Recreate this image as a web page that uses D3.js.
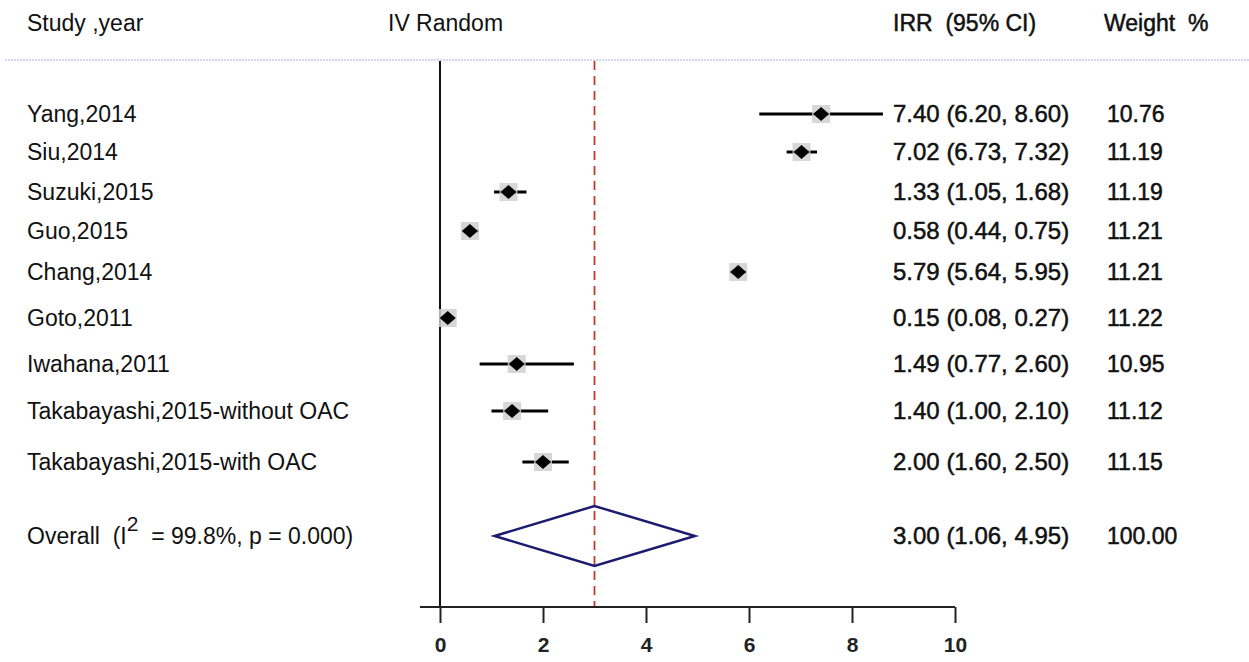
<!DOCTYPE html>
<html>
<head>
<meta charset="utf-8">
<script src="https://d3js.org/d3.v7.min.js"></script>
<style>
  body { margin: 0; background: #fff; }
  text { font-family: "Liberation Sans", Arial, sans-serif; fill: #111; }
</style>
</head>
<body>
<script>
(function(){
  var width = 1249, height = 662;

  var studies = ["Yang,2014", "Siu,2014", "Suzuki,2015", "Guo,2015", "Chang,2014",
                 "Goto,2011", "Iwahana,2011", "Takabayashi,2015-without OAC", "Takabayashi,2015-with OAC"];
  var irr = [7.40, 7.02, 1.33, 0.58, 5.79, 0.15, 1.49, 1.40, 2.00];
  var lower = [6.20, 6.73, 1.05, 0.44, 5.64, 0.08, 0.77, 1.00, 1.60];
  var upper = [8.60, 7.32, 1.68, 0.75, 5.95, 0.27, 2.60, 2.10, 2.50];
  var weights = ["10.76", "11.19", "11.19", "11.21", "11.21", "11.22", "10.95", "11.12", "11.15"];
  var rowY = [114, 152, 192, 231, 272, 318, 364, 411, 462];

  var overall = { label: "Overall", est: 3.00, lo: 1.06, hi: 4.95, weight: "100.00" };
  var xTicks = [0, 2, 4, 6, 8, 10];

  var svg = d3.select("body").append("svg")
    .attr("width", width)
    .attr("height", height);

  var x = d3.scaleLinear().domain([0, 10]).range([440, 955]);
  var fmt = d3.format(".2f");
  var fs = "23px";

  // header
  var hdr = [["Study ,year", 27, 0], ["IV Random", 388, 0], ["IRR  (95% CI)", 893, 1], ["Weight  %", 1104, 1]];
  svg.selectAll("text.hdr").data(hdr).enter().append("text")
    .attr("class", "hdr")
    .attr("x", d => d[1])
    .attr("y", 31)
    .style("font-size", fs)
    .style("white-space", "pre")
    .style("stroke", d => d[2] ? "#111" : "none")
    .style("stroke-width", 0.5)
    .text(d => d[0]);

  svg.append("line")
    .attr("x1", 5).attr("x2", width).attr("y1", 60).attr("y2", 60)
    .style("stroke", "#c8c8f0").style("stroke-width", 1.5)
    .style("stroke-dasharray", "2,1");

  // zero line and overall effect line
  svg.append("line")
    .attr("x1", x(0)).attr("x2", x(0)).attr("y1", 61).attr("y2", 607)
    .style("stroke", "#111").style("stroke-width", 2);
  svg.append("line")
    .attr("x1", x(overall.est)).attr("x2", x(overall.est)).attr("y1", 61).attr("y2", 607)
    .style("stroke", "#c0392b").style("stroke-width", 1.8)
    .style("stroke-dasharray", "9,6");

  // axis
  var axis = svg.append("g").attr("transform", "translate(0,607)")
    .call(d3.axisBottom(x).tickValues(xTicks).tickSize(16).tickPadding(14).tickFormat(d3.format("d")));
  axis.select(".domain").remove();
  axis.selectAll(".tick line").style("stroke", "#222").style("stroke-width", 2);
  axis.selectAll(".tick text")
    .style("font-size", "21px").style("font-weight", "bold").style("fill", "#222")
    .style("font-family", "'Liberation Sans', Arial, sans-serif");
  svg.append("line")
    .attr("x1", 420).attr("x2", x(10)).attr("y1", 607).attr("y2", 607)
    .style("stroke", "#222").style("stroke-width", 2);

  var rows = studies.map((s, i) => ({
    name: s, est: irr[i], lo: lower[i], hi: upper[i], w: weights[i], y: rowY[i]
  }));

  // CI lines
  svg.selectAll("line.ci").data(rows).enter().append("line")
    .attr("class", "ci")
    .attr("x1", d => x(d.lo)).attr("x2", d => x(d.hi))
    .attr("y1", d => d.y).attr("y2", d => d.y)
    .style("stroke", "#000").style("stroke-width", 3);

  // weight boxes
  svg.selectAll("rect.box").data(rows).enter().append("rect")
    .attr("class", "box")
    .attr("x", d => x(d.est) - 9).attr("y", d => d.y - 9)
    .attr("width", 18).attr("height", 18)
    .style("fill", "#d0d0d0").style("opacity", 0.85);

  // point diamonds
  svg.selectAll("path.pt").data(rows).enter().append("path")
    .attr("class", "pt")
    .attr("d", d => {
      var cx = x(d.est), cy = d.y;
      return "M" + (cx - 8) + "," + cy + "L" + cx + "," + (cy - 7) +
             "L" + (cx + 8) + "," + cy + "L" + cx + "," + (cy + 7) + "Z";
    })
    .style("fill", "#000");

  // labels
  svg.selectAll("text.study").data(rows).enter().append("text")
    .attr("class", "study")
    .attr("x", 27).attr("y", d => d.y + 8)
    .style("font-size", fs)
    .text(d => d.name);

  svg.selectAll("text.est").data(rows).enter().append("text")
    .attr("class", "est")
    .attr("x", 893).attr("y", d => d.y + 8)
    .style("font-size", "24px")
    .style("stroke", "#111").style("stroke-width", 0.5)
    .text(d => fmt(d.est) + " (" + fmt(d.lo) + ", " + fmt(d.hi) + ")");

  svg.selectAll("text.wt").data(rows).enter().append("text")
    .attr("class", "wt")
    .attr("x", 1107).attr("y", d => d.y + 8)
    .style("font-size", fs)
    .style("stroke", "#111").style("stroke-width", 0.5)
    .text(d => d.w);

  // overall diamond
  var oy = 536;
  svg.append("path")
    .attr("d", "M" + x(overall.lo) + "," + oy + "L" + x(overall.est) + "," + (oy - 30) +
               "L" + x(overall.hi) + "," + oy + "L" + x(overall.est) + "," + (oy + 30) + "Z")
    .style("fill", "none").style("stroke", "#1c1c6e").style("stroke-width", 2.5);

  var ot = svg.append("text").attr("x", 27).attr("y", oy + 8)
    .style("font-size", fs).style("white-space", "pre");
  ot.append("tspan").text("Overall  (I");
  ot.append("tspan").attr("dy", -13).style("font-size", "21px").text("2");
  ot.append("tspan").attr("dy", 13).text("  = 99.8%, p = 0.000)");

  svg.append("text").attr("x", 893).attr("y", oy + 8).style("font-size", "24px")
    .style("stroke", "#111").style("stroke-width", 0.5)
    .text(fmt(overall.est) + " (" + fmt(overall.lo) + ", " + fmt(overall.hi) + ")");
  svg.append("text").attr("x", 1107).attr("y", oy + 8).style("font-size", fs)
    .style("stroke", "#111").style("stroke-width", 0.5)
    .text(overall.weight);
})();
</script>
</body>
</html>
